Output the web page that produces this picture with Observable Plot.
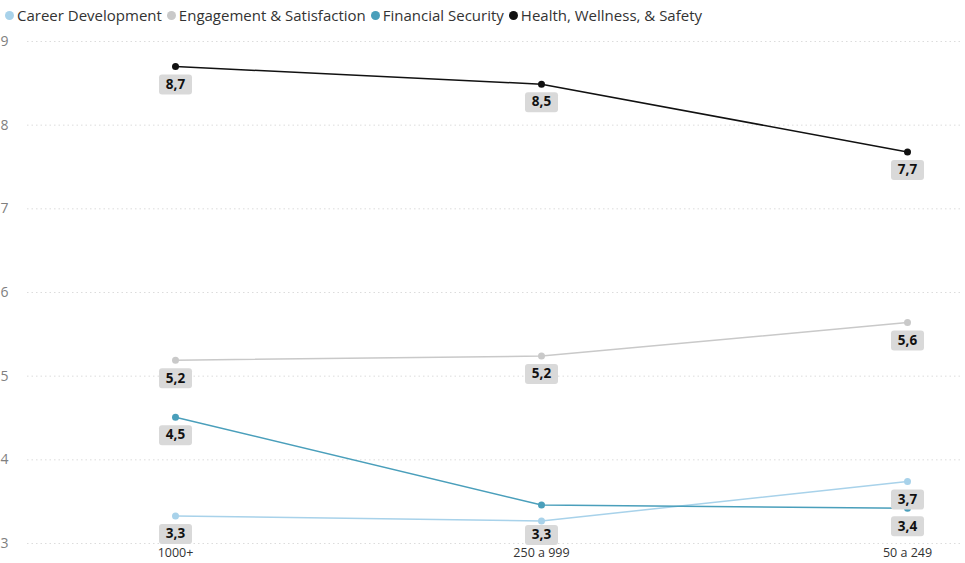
<!DOCTYPE html>
<html><head><meta charset="utf-8">
<script src="https://cdn.jsdelivr.net/npm/d3@7"></script>
<script src="https://cdn.jsdelivr.net/npm/@observablehq/plot@0.6"></script>
<style>
body{margin:0;background:#fff;font-family:"Open Sans",sans-serif;}
#legend{height:30px;display:flex;align-items:center;padding-left:5px;font-size:15px;color:#333;white-space:nowrap;}
#legend span.item{display:inline-flex;align-items:center;margin-right:5px;}
#legend span.sw{width:9px;height:9px;border-radius:50%;display:inline-block;margin-right:3px;}
</style></head>
<body>
<div id="legend"></div>
<div id="chart"></div>
<script>
const categories = ["1000+", "250 a 999", "50 a 249"];
const seriesNames = ["Career Development", "Engagement & Satisfaction", "Financial Security", "Health, Wellness, & Safety"];
const seriesColors = ["#a8d2ea", "#c9c9c9", "#4a9fbb", "#111111"];
const careerDevelopment = [3.33, 3.27, 3.74];
const engagementSatisfaction = [5.19, 5.24, 5.64];
const financialSecurity = [4.51, 3.46, 3.42];
const healthWellnessSafety = [8.70, 8.49, 7.68];
const yTicks = [3, 4, 5, 6, 7, 8, 9];
// data labels not shown in the reference (hidden by overlap)
const hiddenLabels = [["Financial Security", "250 a 999"]];
// data labels pushed up slightly to clear the x axis
const nudgedLabels = [["Career Development", "250 a 999"]];

const seriesValues = [careerDevelopment, engagementSatisfaction, financialSecurity, healthWellnessSafety];
const data = [];
seriesNames.forEach((s, i) => categories.forEach((c, j) => data.push({series: s, cat: c, value: seriesValues[i][j]})));
const inList = (list, d) => list.some(([s, c]) => s === d.series && c === d.cat);
const labelData = data.filter(d => !inList(hiddenLabels, d) && !inList(nudgedLabels, d));
const nudgedData = data.filter(d => inList(nudgedLabels, d));

const legend = document.getElementById("legend");
seriesNames.forEach((s, i) => {
  const it = document.createElement("span"); it.className = "item";
  const sw = document.createElement("span"); sw.className = "sw"; sw.style.background = seriesColors[i];
  it.appendChild(sw); it.appendChild(document.createTextNode(s)); legend.appendChild(it);
});

const fmt = v => d3.format(".1f")(v).replace(".", ",");
const boxSymbol = {
  draw(ctx, size) {
    const w = 33, h = 20, r = 3, x0 = -w/2, y0 = -h/2;
    ctx.moveTo(x0 + r, y0);
    ctx.lineTo(x0 + w - r, y0); ctx.arcTo(x0 + w, y0, x0 + w, y0 + r, r);
    ctx.lineTo(x0 + w, y0 + h - r); ctx.arcTo(x0 + w, y0 + h, x0 + w - r, y0 + h, r);
    ctx.lineTo(x0 + r, y0 + h); ctx.arcTo(x0, y0 + h, x0, y0 + h - r, r);
    ctx.lineTo(x0, y0 + r); ctx.arcTo(x0, y0, x0 + r, y0, r);
    ctx.closePath();
  }
};
const labelMarks = (rows, dy) => [
  Plot.dot(rows, {x: "cat", y: "value", symbol: boxSymbol, fill: "#d9d9d9", r: 5, dy}),
  Plot.text(rows, {x: "cat", y: "value", text: d => fmt(d.value), dy, fontSize: 13.5, fontWeight: "bold", fill: "#111"})
];

const chart = Plot.plot({
  width: 965, height: 533,
  marginTop: 11, marginBottom: 20, marginLeft: 27, marginRight: 5,
  style: {fontFamily: "Open Sans, sans-serif", background: "#fff"},
  x: {type: "point", domain: categories, padding: 0, insetLeft: 147, insetRight: 53, label: null},
  y: {domain: [3, 9], label: null},
  color: {domain: seriesNames, range: seriesColors},
  marks: [
    Plot.ruleY(yTicks, {stroke: "#dcdcdc", strokeDasharray: "1.5,3", strokeWidth: 1}),
    Plot.axisY({ticks: yTicks, tickFormat: d => String(d), tickSize: 0, tickPadding: 10, textAnchor: "start", dx: -17, fontSize: 14, fill: "#808080", label: null}),
    Plot.axisX({tickSize: 0, tickPadding: 5, fontSize: 12.5, fill: "#333", label: null}),
    Plot.line(data, {x: "cat", y: "value", z: "series", stroke: "series", strokeWidth: 1.5}),
    Plot.dot(data, {x: "cat", y: "value", fill: "series", r: 3.5}),
    ...labelMarks(labelData, 18),
    ...labelMarks(nudgedData, 14)
  ]
});
document.getElementById("chart").appendChild(chart);
</script>
</body></html>
